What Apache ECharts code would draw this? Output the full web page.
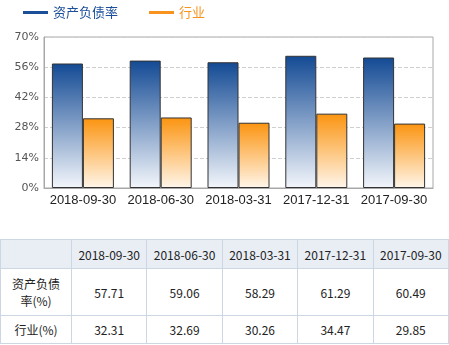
<!DOCTYPE html>
<html>
<head>
<meta charset="utf-8">
<script src="https://cdn.jsdelivr.net/npm/echarts@6/dist/echarts.min.js"></script>
<style>
  body { margin: 0; background: #fff; font-family: "Noto Sans CJK SC", sans-serif; }
  #chart { width: 449px; height: 232px; }
  #tbl { position: absolute; left: 0; top: 239px; width: 449px; border-collapse: collapse; font-size: 12px; color: #222; }
  #tbl td { border: 1px solid #cdd7e3; text-align: center; padding: 0; }
  #tbl tr.head td { background: #e9eef5; height: 28px; }
  #tbl tr.r1 td { height: 46px; line-height: 17px; }
  #tbl tr.r2 td { height: 27px; }
</style>
</head>
<body>
<div id="chart"></div>
<table id="tbl"></table>
<script>
const dates = ['2018-09-30', '2018-06-30', '2018-03-31', '2017-12-31', '2017-09-30'];
const debtRatio = [57.71, 59.06, 58.29, 61.29, 60.49];
const industry = [32.31, 32.69, 30.26, 34.47, 29.85];
const names = ['资产负债率', '行业'];
const rowLabels = ['资产负债<br>率(%)', '行业(%)'];

const myChart = echarts.init(document.getElementById('chart'));
myChart.setOption({
  animation: false,
  legend: {
    left: 18,
    top: 1,
    itemWidth: 25,
    itemHeight: 3,
    itemGap: 31,
    icon: 'rect',
    data: [
      { name: names[0], itemStyle: { color: '#1b4f99', borderWidth: 0 }, textStyle: { color: '#1b4f99' } },
      { name: names[1], itemStyle: { color: '#f7931e', borderWidth: 0 }, textStyle: { color: '#f7931e' } }
    ],
    textStyle: { fontSize: 13, fontFamily: 'Noto Sans CJK SC' }
  },
  grid: { left: 44, right: 16, top: 37, height: 151, show: true, borderColor: '#a8a8a8', borderWidth: 1 },
  xAxis: {
    type: 'category',
    data: dates,
    axisLine: { lineStyle: { color: '#a8a8a8' } },
    axisTick: { show: false },
    axisLabel: { interval: 0, color: '#222', fontSize: 13, fontFamily: 'Arial', margin: 6 }
  },
  yAxis: {
    type: 'value',
    min: 0, max: 70, interval: 14,
    axisLine: { show: true, lineStyle: { color: '#a8a8a8' } },
    axisTick: { show: false },
    axisLabel: { formatter: '{value}%', color: '#555', fontSize: 11, fontFamily: 'DejaVu Sans', margin: 5 },
    splitLine: { lineStyle: { color: '#cfcfcf', type: 'dashed' } }
  },
  series: [
    {
      name: names[0], type: 'bar', data: debtRatio, barWidth: 31, barGap: '0%',
      itemStyle: {
        borderColor: '#333', borderWidth: 1,
        color: new echarts.graphic.LinearGradient(0, 0, 0, 1, [
          { offset: 0, color: '#134a94' },
          { offset: 1, color: '#f3f6fb' }
        ])
      }
    },
    {
      name: names[1], type: 'bar', data: industry, barWidth: 31,
      itemStyle: {
        borderColor: '#333', borderWidth: 1,
        color: new echarts.graphic.LinearGradient(0, 0, 0, 1, [
          { offset: 0, color: '#fb9410' },
          { offset: 1, color: '#fff6ea' }
        ])
      }
    }
  ]
});

// table under the chart
let html = '<tr class="head"><td style="width:70px"></td>' + dates.map(d => '<td>' + d + '</td>').join('') + '</tr>';
html += '<tr class="r1"><td>' + rowLabels[0] + '</td>' + debtRatio.map(v => '<td>' + v.toFixed(2) + '</td>').join('') + '</tr>';
html += '<tr class="r2"><td>' + rowLabels[1] + '</td>' + industry.map(v => '<td>' + v.toFixed(2) + '</td>').join('') + '</tr>';
document.getElementById('tbl').innerHTML = html;
</script>
</body>
</html>
